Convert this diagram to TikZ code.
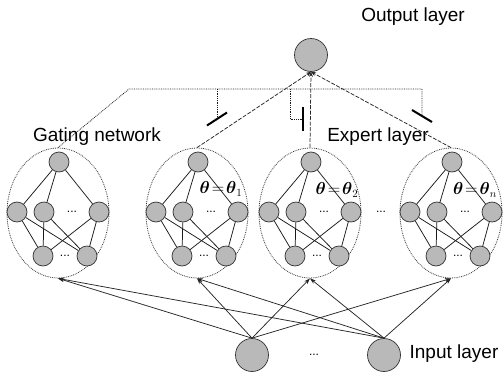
\documentclass[tikz,border=0pt]{standalone}
\usepackage{amsmath}
\usepackage{fontspec}
\setmainfont{Liberation Sans}
\usetikzlibrary{arrows.meta, shapes.geometric, calc}

\begin{document}
\begin{tikzpicture}[x=1pt, y=-1pt,
  neuron/.style={circle, draw=black!80, fill=gray!55, line width=0.7pt,
                 minimum size=20pt, inner sep=0pt},
  bigneuron/.style={neuron, minimum size=33pt},
  netoval/.style={ellipse, draw=black!80, densely dotted, line width=0.8pt,
                  minimum width=102pt, minimum height=130pt, inner sep=0pt},
  link/.style={black!90, line width=0.75pt},
  outlink/.style={black!85, line width=0.75pt, dash pattern=on 4pt off 1.5pt,
                  -{Stealth[length=5pt, width=4pt]}},
  inlink/.style={black!85, line width=0.75pt, -{Stealth[length=6pt, width=4pt]}},
  gateline/.style={black!90, line width=0.8pt, densely dotted},
  gatebar/.style={black, line width=2pt},
  lbl/.style={font=\fontsize{19}{21}\selectfont, inner sep=0pt},
  thetalbl/.style={font=\fontsize{16}{18}\selectfont, inner sep=0pt},
  dots/.style={font=\fontsize{12}{12}\selectfont, inner sep=0pt}
]
  \useasboundingbox (0,0) rectangle (504,378);

  % gating net + experts
  \foreach \nm/\cx in {g/58, e1/197, e2/310, en/451} {
    \node[netoval] (\nm) at (\cx,213) {};
    \node[neuron] (\nm-t) at (\cx+1,162) {};
    \node[neuron] (\nm-a) at (\cx-41,212) {};
    \node[neuron] (\nm-b) at (\cx-14,212) {};
    \node[neuron] (\nm-c) at (\cx+41,212) {};
    \node[neuron] (\nm-d) at (\cx-15,256) {};
    \node[neuron] (\nm-e) at (\cx+29,256) {};
    \node[dots] (\nm-dm) at (\cx+14,212) {...};
    \node[dots] (\nm-db) at (\cx+7,256) {...};
    \foreach \m in {a,b,c} {
      \draw[link] (\nm-t) -- (\nm-\m);
      \draw[link] (\nm-\m) -- (\nm-d);
      \draw[link] (\nm-\m) -- (\nm-e);
    }
  }
  \node[dots] (edots) at (381,212) {...};

  \node[thetalbl] (e1-th) at (221,189) {$\boldsymbol{\theta}\!=\!\boldsymbol{\theta}_1$};
  \node[thetalbl] (e2-th) at (337,190) {$\boldsymbol{\theta}\!=\!\boldsymbol{\theta}_2$};
  \node[thetalbl] (en-th) at (475,190) {$\boldsymbol{\theta}\!=\!\boldsymbol{\theta}_n$};

  % output and input layers
  \node[bigneuron] (out) at (311,55) {};
  \node[bigneuron] (in1) at (252,355) {};
  \node[bigneuron] (in2) at (384,355) {};
  \node[dots] (indots) at (314,355) {...};

  \node[lbl] (outlbl) at (413,17) {Output layer};
  \node[lbl] (gatelbl) at (97,137) {Gating network};
  \node[lbl] (explbl) at (378,137) {Expert layer};
  \node[lbl] (inlbl) at (454,354) {Input layer};

  % expert outputs
  \draw[outlink] (e1.north) -- (out.south);
  \draw[outlink] (e2.north) -- (out.south);
  \draw[outlink] (en.north) -- (out.south);

  % gating bus with switches
  \coordinate (bl) at (129,89);
  \coordinate (br) at (422,89);
  \coordinate (k2) at (290,89);
  \coordinate (s1) at (217,119);
  \coordinate (s2) at (303,119);
  \coordinate (s3) at (422,116);
  \draw[gateline] (g.north) -- (bl) -- (br) -- (s3);
  \draw[gateline] (s1 |- bl) -- (s1);
  \draw[gateline] (k2) |- (s2);
  \draw[gatebar] ([shift={(-10,6.5)}]s1) -- ([shift={(10,-6.5)}]s1);
  \draw[gatebar] ([shift={(0,-12)}]s2) -- ([shift={(0,12)}]s2);
  \draw[gatebar] ([shift={(-10,-6)}]s3) -- ([shift={(10,6)}]s3);

  % inputs to every net
  \foreach \nm in {g, e1, e2, en} {
    \draw[inlink] (in1.north) -- (\nm.south);
    \draw[inlink] (in2.north) -- (\nm.south);
  }
\end{tikzpicture}
\end{document}
